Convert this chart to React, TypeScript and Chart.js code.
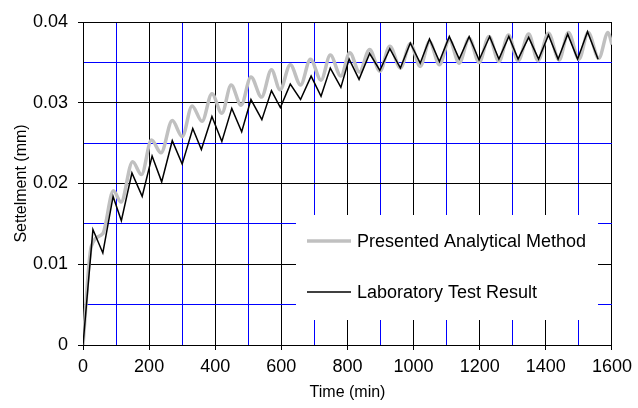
import React, { useEffect, useRef } from "react";
import { Chart, registerables } from "chart.js";

Chart.register(...registerables);

const xTitle = "Time (min)";
const yTitle = "Settelment (mm)";
const seriesNames = ["Laboratory Test Result", "Presented Analytical Method"];

const labTime = [
  0, 30, 60, 91, 116, 148, 179, 209, 238, 270, 300, 332, 358, 390, 420, 450, 480, 508, 541,
  570, 597, 627, 658, 690, 720, 748, 780, 805, 835, 867, 898, 928, 960, 990, 1020, 1048,
  1078, 1108, 1138, 1168, 1198, 1230, 1258, 1288, 1316, 1348, 1378, 1408, 1437, 1466, 1496,
  1526, 1558,
];
const labSettlement = [
  0, 0.0143, 0.0114, 0.0184, 0.0154, 0.0213, 0.0184, 0.0234, 0.0202, 0.0253, 0.0224, 0.0268,
  0.0242, 0.0283, 0.0252, 0.0293, 0.0264, 0.0304, 0.0279, 0.0315, 0.0294, 0.0323, 0.0304,
  0.0333, 0.0308, 0.0343, 0.0319, 0.0354, 0.0329, 0.0361, 0.034, 0.0367, 0.0343, 0.0374,
  0.0349, 0.0379, 0.0351, 0.0382, 0.0354, 0.0382, 0.0353, 0.0382, 0.0354, 0.0382, 0.0354,
  0.0381, 0.0354, 0.0384, 0.0354, 0.0385, 0.0354, 0.0388, 0.0354,
];

const methodTime = [
  0, 25, 60, 92, 115, 150, 177, 207, 236, 270, 300, 330, 360, 390, 420, 448, 478, 508, 540,
  570, 596, 627, 658, 688, 720, 748, 780, 807, 836, 867, 898, 928, 960, 990, 1020, 1048,
  1078, 1108, 1138, 1168, 1198, 1228, 1258, 1287, 1316, 1348, 1376, 1408, 1440, 1468, 1500,
  1528, 1560, 1588, 1600,
];
const methodSettlement = [
  0, 0.0122, 0.0138, 0.0191, 0.0177, 0.0227, 0.0211, 0.0254, 0.0238, 0.0278, 0.0258, 0.0296,
  0.0277, 0.0311, 0.0287, 0.0322, 0.0297, 0.0332, 0.0307, 0.0341, 0.0316, 0.0347, 0.0322,
  0.0354, 0.0328, 0.0359, 0.0333, 0.0362, 0.0338, 0.0366, 0.0339, 0.037, 0.0343, 0.0373,
  0.0345, 0.0376, 0.0347, 0.0378, 0.0349, 0.038, 0.035, 0.0382, 0.0351, 0.0384, 0.0352,
  0.0385, 0.0352, 0.0386, 0.0353, 0.0387, 0.0354, 0.0387, 0.0355, 0.0387, 0.0372,
];

const FONT = "'Liberation Sans', Arial, Helvetica, sans-serif";
const GRAY = "#c0c0c0";

const isMajorX = (v: number) => Math.abs(v / 200 - Math.round(v / 200)) < 1e-6;
const isMajorY = (v: number) => Math.abs(v / 0.01 - Math.round(v / 0.01)) < 1e-6;

const legendPlugin = {
  id: "boxLegend",
  afterDatasetsDraw(chart: any) {
    const { ctx, chartArea } = chart;
    const left = chartArea.left + 213;
    const top = chartArea.top + 193;
    const w = 302;
    const h = 105;
    ctx.save();
    ctx.fillStyle = "#ffffff";
    ctx.fillRect(left, top, w, h);
    const items = [
      { name: seriesNames[1], color: GRAY, width: 3.5, dy: 26 },
      { name: seriesNames[0], color: "#000000", width: 1.5, dy: 77 },
    ];
    ctx.font = `18px ${FONT}`;
    ctx.textBaseline = "alphabetic";
    ctx.textAlign = "left";
    for (const it of items) {
      const y = top + it.dy;
      ctx.strokeStyle = it.color;
      ctx.lineWidth = it.width;
      ctx.beginPath();
      ctx.moveTo(left + 11, y);
      ctx.lineTo(left + 55, y);
      ctx.stroke();
      ctx.fillStyle = "#000000";
      ctx.fillText(it.name, left + 61, y + 6);
    }
    ctx.restore();
  },
};

export default function App() {
  const ref = useRef<HTMLCanvasElement | null>(null);
  useEffect(() => {
    if (!ref.current) return;
    Chart.defaults.font.family = FONT;
    const chart = new Chart(ref.current, {
      type: "line",
      data: {
        datasets: [
          {
            label: seriesNames[0],
            data: labTime.map((t, i) => ({ x: t, y: labSettlement[i] })),
            borderColor: "#000000",
            borderWidth: 1.5,
            pointRadius: 0,
            tension: 0,
            fill: false,
          },
          {
            label: seriesNames[1],
            data: methodTime.map((t, i) => ({ x: t, y: methodSettlement[i] })),
            borderColor: GRAY,
            borderWidth: 3.5,
            pointRadius: 0,
            tension: 0.4,
            cubicInterpolationMode: "monotone",
            fill: false,
          },
        ],
      },
      options: {
        responsive: false,
        animation: false,
        events: [],
        layout: { padding: { left: 0, top: 22, right: 22, bottom: 0 } },
        plugins: { legend: { display: false }, tooltip: { enabled: false } },
        scales: {
          x: {
            type: "linear",
            min: 0,
            max: 1600,
            afterFit: (s: any) => {
              s.height = 63;
            },
            ticks: {
              stepSize: 100,
              autoSkip: false,
              maxRotation: 0,
              padding: 6,
              color: "#000",
              font: { size: 18 },
              callback: (v: any) => (isMajorX(Number(v)) ? String(v) : ""),
            },
            grid: {
              color: (c: any) => (isMajorX(c.tick.value) ? "#000000" : "#0000ff"),
              tickColor: (c: any) => (isMajorX(c.tick.value) ? "#000000" : "rgba(0,0,0,0)"),
              tickLength: 5,
              lineWidth: 1,
            },
            border: { color: "#000000", width: 1 },
            title: {
              display: true,
              text: xTitle,
              color: "#000",
              font: { size: 16 },
              padding: { top: 0, bottom: 6 },
            },
          },
          y: {
            type: "linear",
            min: 0,
            max: 0.04,
            afterFit: (s: any) => {
              s.width = 83;
            },
            ticks: {
              stepSize: 0.005,
              autoSkip: false,
              padding: 10,
              color: "#000",
              font: { size: 18 },
              callback: (v: any) => {
                const n = Number(v);
                if (!isMajorY(n)) return "";
                const r = Math.round(n / 0.01);
                return r === 0 ? "0" : (r / 100).toFixed(2);
              },
            },
            grid: {
              color: (c: any) => (isMajorY(c.tick.value) ? "#000000" : "#0000ff"),
              tickColor: (c: any) => (isMajorY(c.tick.value) ? "#000000" : "rgba(0,0,0,0)"),
              tickLength: 5,
              lineWidth: 1,
            },
            border: { color: "#000000", width: 1 },
            title: {
              display: true,
              text: yTitle,
              color: "#000",
              font: { size: 16 },
              padding: { top: 12, bottom: 0 },
            },
          },
        },
      } as any,
      plugins: [legendPlugin],
    });
    return () => chart.destroy();
  }, []);

  return (
    <div style={{ position: "fixed", left: 0, top: 0, width: 638, height: 408, background: "#fff" }}>
      <canvas ref={ref} width={638} height={408} style={{ display: "block" }} />
    </div>
  );
}
